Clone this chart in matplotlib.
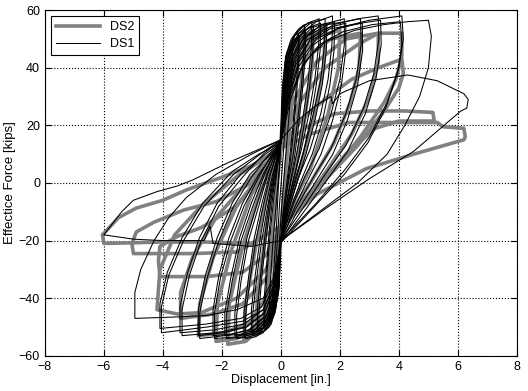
import matplotlib.pyplot as plt

plt.rcParams['font.family'] = ['Liberation Sans', 'DejaVu Sans']

# DS1 (black, thin) - one closed path per cycle, (disp [in.], force [kips])
ds1_cycles = [
    [(-0.08, 0), (0.05, 22), (0.15, 33), (0.25, 40), (0.2, 28), (0.08, 10), (-0.05, -8),
     (-0.15, -25), (-0.3, -44), (-0.25, -32), (-0.15, -15), (-0.08, 0)],
    [(-0.05, 5), (0.05, 30), (0.15, 40), (0.28, 45.5), (0.4, 48), (0.37, 38), (0.28, 24),
     (0.15, 8), (0.03, -8), (-0.05, -20), (-0.13, -35), (-0.25, -44), (-0.4, -48),
     (-0.38, -38), (-0.28, -22), (-0.15, -6), (-0.05, 5)],
    [(0, 15), (0.05, 32), (0.14, 42), (0.3, 48), (0.45, 51), (0.6, 52), (0.58, 43), (0.5, 31),
     (0.4, 19), (0.28, 7), (0.15, -4), (0.05, -12), (0, -20), (-0.06, -36), (-0.18, -44),
     (-0.33, -49), (-0.45, -50.5), (-0.55, -51), (-0.54, -42), (-0.46, -30), (-0.36, -17),
     (-0.24, -5), (-0.12, 5), (-0.04, 11), (0, 15)],
    [(0, 14), (0.06, 31), (0.17, 41), (0.33, 47), (0.48, 50), (0.62, 51), (0.6, 41), (0.52, 29),
     (0.42, 17), (0.3, 6), (0.17, -5), (0.06, -13), (-0.02, -21), (-0.08, -35), (-0.2, -43),
     (-0.35, -48), (-0.48, -49.5), (-0.58, -50), (-0.57, -41), (-0.49, -29), (-0.39, -16),
     (-0.27, -4), (-0.14, 5), (-0.05, 10), (0, 14)],
    [(0, 15), (0.06, 33), (0.16, 44), (0.35, 50), (0.6, 53.5), (0.8, 55), (0.78, 46), (0.7, 34),
     (0.57, 22), (0.42, 10), (0.25, 0), (0.1, -10), (0, -20), (-0.07, -37), (-0.2, -45),
     (-0.4, -50), (-0.6, -51.5), (-0.75, -52), (-0.74, -44), (-0.64, -32), (-0.5, -19),
     (-0.35, -7), (-0.2, 3), (-0.08, 10), (0, 15)],
    [(0, 14), (0.08, 31), (0.2, 42), (0.4, 48.5), (0.63, 52), (0.84, 53.5), (0.82, 44),
     (0.73, 32), (0.6, 20), (0.45, 8), (0.28, -2), (0.12, -11), (-0.02, -21), (-0.09, -36),
     (-0.23, -44), (-0.43, -49), (-0.63, -50.5), (-0.8, -51), (-0.79, -43), (-0.68, -31),
     (-0.54, -18), (-0.38, -6), (-0.22, 3), (-0.09, 9), (0, 14)],
    [(0, 15), (0.08, 33), (0.2, 45), (0.45, 51), (0.75, 54.5), (1.05, 56), (1.03, 47),
     (0.92, 35), (0.75, 23), (0.55, 11), (0.35, 1), (0.15, -9), (0, -20), (-0.08, -38),
     (-0.25, -46), (-0.5, -51), (-0.75, -52.5), (-0.95, -53), (-0.95, -45), (-0.82, -33),
     (-0.65, -20), (-0.45, -8), (-0.25, 3), (-0.1, 10), (0, 15)],
    [(0, 14), (0.1, 31), (0.24, 43), (0.5, 49.5), (0.8, 53), (1.1, 54.5), (1.08, 45),
     (0.97, 33), (0.8, 21), (0.6, 9), (0.38, -1), (0.17, -10), (-0.02, -21), (-0.1, -37),
     (-0.28, -45), (-0.53, -50), (-0.8, -51.5), (-1.0, -52), (-1.0, -44), (-0.87, -32),
     (-0.7, -19), (-0.49, -7), (-0.28, 3), (-0.12, 9), (0, 14)],
    [(0, 15), (0.1, 33), (0.25, 45), (0.5, 52), (0.9, 55.5), (1.3, 57), (1.28, 48), (1.15, 36),
     (0.95, 24), (0.7, 12), (0.45, 2), (0.2, -8), (0, -20), (-0.1, -38), (-0.3, -47),
     (-0.6, -52), (-0.9, -53.5), (-1.2, -54), (-1.2, -46), (-1.05, -34), (-0.85, -20),
     (-0.6, -8), (-0.35, 3), (-0.15, 10), (0, 15)],
    [(0, 14), (0.12, 31), (0.3, 43), (0.56, 50), (0.95, 54), (1.35, 55.5), (1.33, 46),
     (1.2, 34), (1.0, 22), (0.75, 10), (0.48, 0), (0.22, -9), (-0.02, -21), (-0.12, -37),
     (-0.33, -46), (-0.64, -51), (-0.95, -52.5), (-1.25, -53), (-1.25, -45), (-1.1, -33),
     (-0.9, -19), (-0.64, -7), (-0.38, 3), (-0.17, 9), (0, 14)],
    [(0, 15), (0.12, 33), (0.3, 45), (0.6, 52), (1.0, 55.5), (1.5, 57), (1.48, 48), (1.35, 36),
     (1.1, 24), (0.8, 12), (0.5, 2), (0.25, -8), (0, -20), (-0.12, -38), (-0.35, -47),
     (-0.7, -52), (-1.1, -53.5), (-1.5, -54), (-1.5, -46), (-1.35, -34), (-1.1, -20),
     (-0.75, -8), (-0.45, 3), (-0.2, 10), (0, 15)],
    [(0, 14), (0.14, 31), (0.35, 43), (0.66, 50), (1.06, 54), (1.56, 55.5), (1.54, 46),
     (1.4, 34), (1.16, 22), (0.85, 10), (0.54, 0), (0.27, -9), (-0.02, -21), (-0.14, -37),
     (-0.38, -46), (-0.75, -51), (-1.15, -52.5), (-1.56, -53), (-1.56, -45), (-1.4, -33),
     (-1.15, -19), (-0.8, -7), (-0.48, 3), (-0.22, 9), (0, 14)],
    [(0, 15), (0.15, 33), (0.35, 45), (0.7, 52), (1.2, 56), (1.75, 58), (1.73, 48), (1.6, 36),
     (1.35, 24), (1.0, 12), (0.6, 2), (0.3, -8), (0, -20), (-0.15, -38), (-0.4, -47),
     (-0.85, -52), (-1.3, -53.5), (-1.85, -54), (-1.85, -46), (-1.65, -34), (-1.35, -20),
     (-0.95, -8), (-0.55, 3), (-0.25, 10), (0, 15)],
    [(0, 14), (0.17, 31), (0.4, 43), (0.76, 50), (1.26, 54), (1.82, 56), (1.8, 46),
     (1.66, 34), (1.42, 22), (1.06, 10), (0.65, 0), (0.33, -9), (-0.02, -21), (-0.17, -37),
     (-0.43, -46), (-0.9, -51), (-1.36, -52.5), (-1.9, -53), (-1.9, -45), (-1.7, -33),
     (-1.4, -19), (-1.0, -7), (-0.6, 3), (-0.28, 9), (0, 14)],
    [(0, 15), (0.15, 32), (0.4, 44), (0.8, 51), (1.4, 55), (2.15, 57), (2.15, 48), (2.0, 36),
     (1.7, 24), (1.3, 12), (0.8, 2), (0.4, -8), (0, -20), (-0.15, -38), (-0.45, -47),
     (-1.0, -52), (-1.6, -53.5), (-2.25, -54), (-2.25, -45), (-2.05, -33), (-1.7, -20),
     (-1.25, -8), (-0.7, 3), (-0.3, 10), (0, 15)],
    [(0, 14), (0.18, 30), (0.45, 42), (0.86, 49.5), (1.46, 53.5), (2.2, 55.5), (2.2, 46),
     (2.05, 34), (1.76, 22), (1.36, 10), (0.86, 0), (0.44, -9), (-0.02, -21), (-0.17, -37),
     (-0.48, -46), (-1.05, -51), (-1.66, -52.5), (-2.3, -53), (-2.3, -44), (-2.1, -32),
     (-1.76, -19), (-1.3, -7), (-0.75, 3), (-0.33, 9), (0, 14)],
    [(0, 15), (0.2, 32), (0.45, 43), (0.9, 51), (1.6, 55), (2.7, 57), (2.72, 48), (2.55, 36),
     (2.2, 24), (1.7, 12), (1.1, 2), (0.5, -9), (0, -20), (-0.2, -37), (-0.5, -46),
     (-1.1, -51), (-1.9, -53), (-2.75, -54), (-2.75, -45), (-2.5, -33), (-2.1, -20),
     (-1.6, -8), (-1.0, 2), (-0.4, 10), (0, 15)],
    [(0, 14), (0.23, 30), (0.5, 41), (0.96, 49), (1.66, 53.5), (2.76, 55.5), (2.77, 46),
     (2.6, 34), (2.26, 22), (1.76, 10), (1.15, 0), (0.55, -10), (-0.02, -21), (-0.22, -36),
     (-0.55, -45), (-1.15, -50), (-1.95, -52), (-2.8, -53), (-2.8, -44), (-2.56, -32),
     (-2.16, -19), (-1.65, -7), (-1.05, 3), (-0.44, 9), (0, 14)],
    [(0, 15), (0.2, 30), (0.5, 42), (1.0, 50), (1.8, 55), (2.6, 57), (3.3, 58), (3.32, 50),
     (3.15, 38), (2.8, 26), (2.2, 13), (1.5, 3), (0.8, -8), (0, -20), (-0.2, -36),
     (-0.55, -45), (-1.2, -50), (-2.2, -52), (-3.35, -53), (-3.35, -44), (-3.1, -32),
     (-2.7, -20), (-2.1, -8), (-1.3, 2), (-0.6, 10), (0, 15)],
    [(0, 14), (0.25, 29), (0.58, 40), (1.1, 48), (1.9, 53.5), (2.7, 55.5), (3.38, 56.5),
     (3.4, 48), (3.22, 36), (2.86, 24), (2.26, 11), (1.56, 1), (0.85, -9), (-0.02, -21),
     (-0.23, -35), (-0.6, -44), (-1.26, -49), (-2.26, -51), (-3.42, -52), (-3.42, -43),
     (-3.16, -31), (-2.76, -19), (-2.16, -7), (-1.36, 3), (-0.65, 9), (0, 14)],
    [(0, 15), (0.25, 30), (0.6, 42), (1.2, 50), (2.0, 54), (3.0, 56.5), (4.1, 58), (4.15, 50),
     (4.0, 40), (3.6, 28), (3.0, 16), (2.2, 5), (1.2, -7), (0, -20), (-0.2, -35), (-0.6, -44),
     (-1.3, -48), (-2.5, -50), (-4.05, -52), (-4.05, -43), (-3.8, -32), (-3.3, -20),
     (-2.6, -8), (-1.6, 3), (-0.7, 10), (0, 15)],
    [(0, 14), (0.3, 28), (0.7, 40), (1.3, 48), (2.1, 52.5), (3.1, 55), (4.05, 56), (4.1, 48),
     (3.95, 38), (3.55, 26), (2.95, 14), (2.15, 3), (1.15, -8), (-0.02, -21), (-0.25, -34),
     (-0.65, -43), (-1.35, -47), (-2.55, -49), (-4.1, -50.5), (-4.1, -42), (-3.85, -31),
     (-3.35, -19), (-2.65, -7), (-1.65, 4), (-0.75, 10), (0, 14)],
    [(0, 15), (0.3, 30), (0.8, 42), (1.5, 49), (2.5, 53), (3.5, 55), (4.3, 56), (5.0, 56.5),
     (5.1, 51), (5.0, 40), (4.7, 30), (4.2, 20), (3.6, 10), (2.6, 0), (1.3, -10), (0, -20),
     (-0.2, -32), (-0.6, -40), (-1.5, -44), (-2.5, -46), (-3.5, -46.5), (-4.95, -47),
     (-4.95, -38), (-4.75, -30), (-4.3, -20), (-3.8, -12), (-3.2, -5), (-2.2, 3),
     (-1.0, 10), (0, 15)],
    [(0, 15), (0.6, 22), (1.2, 27), (1.7, 30), (1.75, 27.5), (2.0, 31), (3.0, 35.5),
     (4.3, 37.5), (5.3, 35.5), (6.2, 31), (6.35, 29), (6.3, 26), (6.1, 25), (4.5, 11),
     (3.0, 1.5), (1.5, -9), (0, -20), (-1.0, -22), (-2.3, -21), (-2.4, -15), (-2.6, -20),
     (-4.0, -20), (-5.0, -19.5), (-6.0, -18), (-5.4, -10), (-5.0, -6), (-4.2, -3),
     (-3.5, -1), (-3.0, 1), (-1.8, 7), (-0.9, 11), (0, 15)],
]

# DS2 (grey, thick)
ds2_cycles = [
    [(0, 12), (0.1, 35), (0.25, 45), (0.5, 50), (0.45, 38), (0.3, 20), (0.15, 2), (0, -15),
     (-0.1, -35), (-0.25, -45), (-0.5, -50), (-0.45, -38), (-0.3, -20), (-0.15, -2), (0, 12)],
    [(0, 12), (0.12, 35), (0.3, 46), (0.8, 52), (0.75, 40), (0.55, 22), (0.3, 3), (0, -15),
     (-0.12, -36), (-0.35, -47), (-0.85, -53), (-0.8, -40), (-0.55, -20), (-0.3, -2), (0, 12)],
    [(0, 12), (0.15, 34), (0.4, 46), (1.1, 53), (1.05, 40), (0.8, 22), (0.45, 3), (0, -15),
     (-0.15, -37), (-0.45, -48), (-1.25, -55), (-1.2, -42), (-0.85, -22), (-0.45, -3), (0, 12)],
    [(0, 12), (0.2, 33), (0.55, 46), (1.0, 51), (1.5, 54), (1.45, 40), (1.1, 22), (0.6, 3),
     (0, -15), (-0.2, -38), (-0.6, -50), (-1.2, -55), (-1.8, -56), (-1.75, -42), (-1.3, -22),
     (-0.7, -3), (0, 12)],
    [(0, 12), (0.25, 32), (0.7, 45), (1.3, 51), (2.0, 53), (1.95, 40), (1.6, 24), (1.0, 5),
     (0, -15), (-0.25, -38), (-0.8, -50), (-1.5, -54), (-2.2, -55), (-2.15, -42), (-1.7, -24),
     (-1.0, -4), (0, 12)],
    [(0, 12), (0.3, 30), (0.9, 44), (1.7, 50), (2.7, 52), (2.65, 40), (2.35, 28), (1.8, 14),
     (1.0, 0), (0, -15), (-0.3, -36), (-1.0, -48), (-1.9, -52), (-2.8, -53), (-2.75, -42),
     (-2.3, -26), (-1.5, -8), (0, 12)],
    [(0, 12), (0.4, 28), (1.2, 42), (2.2, 50), (3.3, 52), (3.3, 42), (3.0, 30), (2.4, 17),
     (1.4, 2), (0, -15), (-0.4, -32), (-1.3, -42), (-2.3, -45.5), (-3.4, -47), (-3.4, -38),
     (-3.0, -26), (-2.2, -12), (-1.0, 2), (0, 12)],
    [(0, 12), (0.5, 26), (1.5, 40), (2.6, 48), (3.3, 52), (4.1, 52), (4.1, 44), (3.9, 36),
     (3.5, 28), (2.7, 16), (1.5, 1), (0, -15), (-0.5, -30), (-1.5, -40), (-2.7, -45),
     (-3.5, -45.5), (-4.2, -44), (-4.1, -30), (-3.6, -18), (-2.7, -8), (-1.4, 3), (0, 12)],
    [(0, 12), (0.7, 22), (1.6, 30), (2.4, 36), (3.3, 40), (4.1, 43), (4.15, 38), (4.0, 33),
     (3.5, 25), (2.6, 13), (1.4, 0), (0, -15), (-0.5, -25), (-1.3, -31), (-2.5, -32.5),
     (-4.1, -32.5), (-4.15, -27), (-4.1, -22), (-3.5, -18.5), (-2.7, -15.5), (-1.5, -8),
     (0, 12)],
    [(0, 12), (0.8, 19), (1.8, 24), (3.0, 25), (4.2, 25), (5.15, 24.5), (5.2, 21.5),
     (4.0, 21.5), (3.2, 19), (2.2, 10), (1.0, -4), (0, -15), (-0.8, -20), (-1.5, -24),
     (-3.0, -24.5), (-5.0, -24.5), (-5.05, -21), (-4.9, -17), (-4.3, -13.6), (-3.3, -9.4),
     (-2.2, -6.5), (-1.0, 0), (0, 12)],
    [(0, 12), (1.0, 17), (2.3, 21), (3.5, 21), (5.3, 21), (5.5, 19.5), (6.2, 19), (6.25, 16),
     (6.2, 15), (4.5, 10), (2.9, 5), (1.2, -4), (0, -15), (-1.0, -21), (-2.5, -20.5),
     (-4.0, -20.5), (-6.0, -21), (-6.05, -18), (-5.5, -12), (-4.9, -8.7), (-4.0, -6),
     (-3.2, -2.4), (-2.0, 2), (-1.0, 6), (0, 12)],
]

fig = plt.figure(figsize=(5.28, 3.91), dpi=100)
ax = fig.add_axes([0.085, 0.09, 0.894, 0.884])

first = True
for cyc in ds2_cycles:
    xs = [p[0] for p in cyc]
    ys = [p[1] for p in cyc]
    ax.plot(xs, ys, color='#808080', lw=2.6, label='DS2' if first else None,
            solid_joinstyle='round')
    first = False

first = True
for cyc in ds1_cycles:
    xs = [p[0] for p in cyc]
    ys = [p[1] for p in cyc]
    ax.plot(xs, ys, color='black', lw=0.75, label='DS1' if first else None,
            solid_joinstyle='round')
    first = False

ax.set_xlim(-8, 8)
ax.set_ylim(-60, 60)
ax.set_xticks(range(-8, 9, 2))
ax.set_yticks(range(-60, 61, 20))
ax.grid(True, color='black', linestyle=':', linewidth=0.8)
ax.tick_params(direction='in', top=True, right=True, labelsize=9, length=4)
ax.set_xlabel('Displacement [in.]', fontsize=9, labelpad=1)
ax.set_ylabel('Effectice Force [kips]', fontsize=9.5, labelpad=2)

leg = ax.legend(loc='upper left', fontsize=9, fancybox=False, edgecolor='black',
                framealpha=1, handlelength=3.5, borderpad=0.4, labelspacing=0.4)
leg.get_frame().set_linewidth(0.8)

fig.savefig('out.png', dpi=100)
